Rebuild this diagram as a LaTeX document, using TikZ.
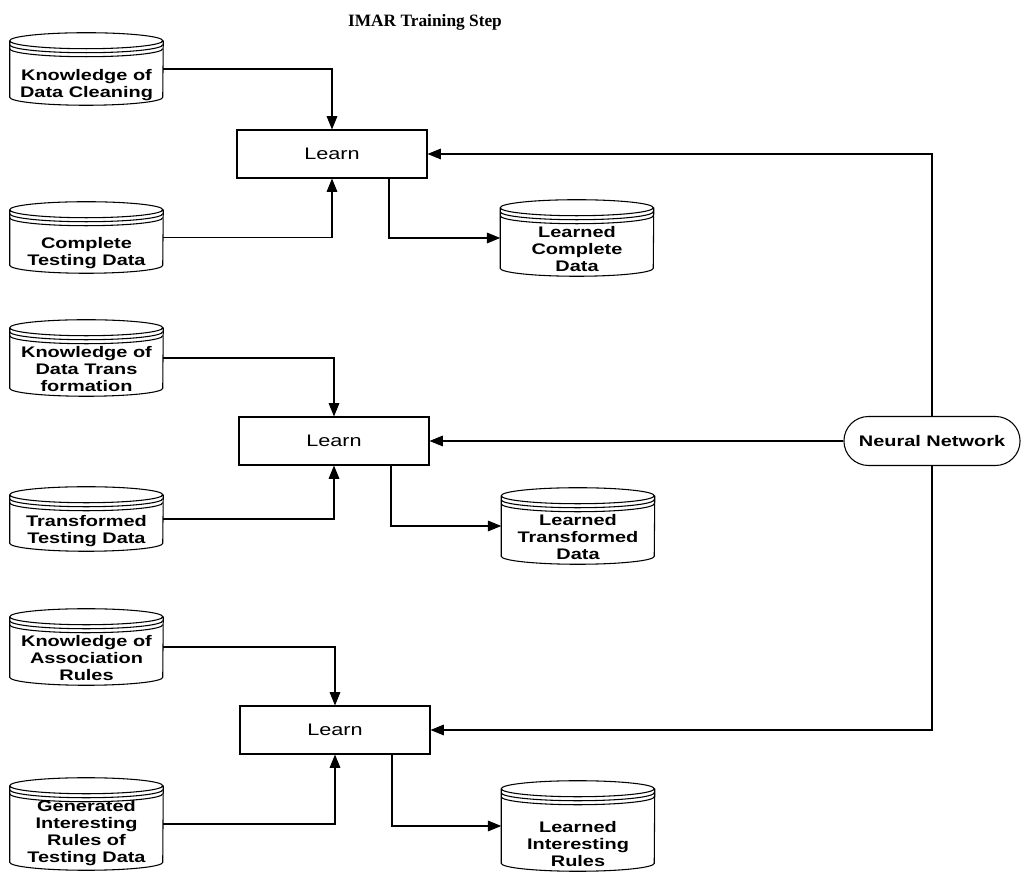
\documentclass[tikz,border=0pt]{standalone}
\usepackage{fontspec}
\setmainfont{Liberation Serif}
\newfontfamily\cylfont[FakeStretch=1.3]{Liberation Sans}
\usetikzlibrary{arrows.meta, shapes.misc}
\tikzset{
	db/.style={minimum width=114.75pt, inner sep=0pt, draw=none},
	dbline/.style={line width=0.8pt},
	dbtext/.style={font=\cylfont\bfseries\fontsize{11.5pt}{12.75pt}\selectfont, align=center, inner sep=1pt, anchor=south},
	learnbox/.style={draw, line width=0.8pt, minimum width=142.5pt, minimum height=36pt, font=\cylfont\fontsize{12.5pt}{14pt}\selectfont},
	netnode/.style={draw, line width=0.8pt, rounded rectangle, minimum width=138.75pt, minimum height=36.75pt, font=\cylfont\bfseries\fontsize{11.5pt}{13pt}\selectfont},
	arr/.style={line width=0.8pt, -{Triangle[length=10pt,width=8pt]}},
	link/.style={line width=0.8pt}
}
% database cylinder: name, position, height, text
\newcommand{\dbnode}[4]{%
	\node[db, minimum height=#3] (#1) at (#2) {};
	\draw[dbline] ([yshift=-6pt]#1.north west) arc[start angle=180, end angle=-180, x radius=57.375pt, y radius=6pt]
		([yshift=-6pt]#1.north west) -- ([yshift=6pt]#1.south west)
		arc[start angle=180, end angle=360, x radius=57.375pt, y radius=6pt]
		-- ([yshift=-6pt]#1.north east);
	\draw[dbline] ([yshift=-9pt]#1.north west) arc[start angle=180, end angle=360, x radius=57.375pt, y radius=6pt]
		([yshift=-12pt]#1.north west) arc[start angle=180, end angle=360, x radius=57.375pt, y radius=6pt];
	\node[dbtext] (#1-t) at ([yshift=2.5pt]#1.south) {#4};
}

\begin{document}
\begin{tikzpicture}[x=0.75pt, y=0.75pt]
	\useasboundingbox (0,0) rectangle (1034,873);
	\node[font=\bfseries\fontsize{13pt}{15pt}\selectfont] (title) at (425,851) {IMAR Training Step};

	% --- Cleaning step ---
	\dbnode{kclean}{86.5,804}{54pt}{Knowledge of\\Data Cleaning}
	\dbnode{ctest}{86.5,635.5}{53.25pt}{Complete\\Testing Data}
	\node[learnbox] (learn1) at (332,719) {Learn};
	\dbnode{lcomp}{577,635}{57pt}{Learned\\Complete\\Data}

	% --- Transformation step ---
	\dbnode{ktrans}{86.5,515}{57pt}{Knowledge of\\Data Trans\\formation}
	\dbnode{ttest}{86.5,354}{48pt}{Transformed\\Testing Data}
	\node[learnbox] (learn2) at (334,432) {Learn};
	\dbnode{ltrans}{578,347}{57pt}{Learned\\Transformed\\Data}

	% --- Association rules step ---
	\dbnode{kassoc}{86.5,226}{57pt}{Knowledge of\\Association\\Rules}
	\dbnode{girt}{86.5,49}{69pt}{Generated\\Interesting\\Rules of\\Testing Data}
	\node[learnbox] (learn3) at (335,143) {Learn};
	\dbnode{lint}{578,47}{67.5pt}{Learned\\Interesting\\Rules}

	% --- Neural network ---
	\node[netnode] (nn) at (932,432) {Neural Network};

	% Connectors
	\draw[arr] (kclean.east) -| (learn1.north);
	\draw[arr] (ctest.east) -| (learn1.south);
	\draw[arr] ([xshift=42.75pt]learn1.south) |- (lcomp.west);
	\draw[arr] (ktrans.east) -| (learn2.north);
	\draw[arr] (ttest.east) -| (learn2.south);
	\draw[arr] ([xshift=42.75pt]learn2.south) |- (ltrans.west);
	\draw[arr] (kassoc.east) -| (learn3.north);
	\draw[arr] (girt.east) -| (learn3.south);
	\draw[arr] ([xshift=42.75pt]learn3.south) |- (lint.west);

	\draw[arr] (nn.north) |- (learn1.east);
	\draw[arr] (nn.west) -- (learn2.east);
	\draw[arr] (nn.south) |- (learn3.east);
\end{tikzpicture}
\end{document}
